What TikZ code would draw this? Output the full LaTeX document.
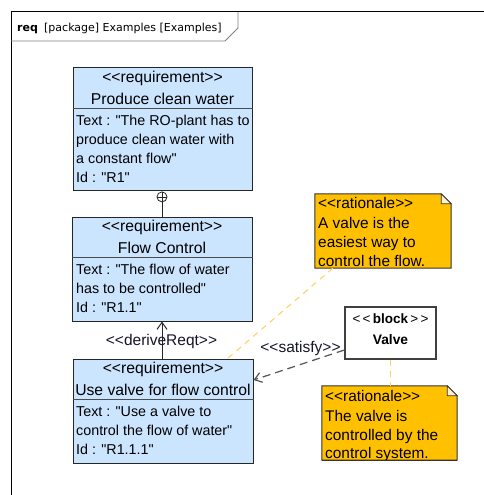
\documentclass[tikz,border=0pt]{standalone}
\usepackage{fontspec}
\setmainfont{Liberation Sans}[Ligatures=TeXOff]
\newfontfamily\titlefont{DejaVu Sans}
\usetikzlibrary{arrows.meta,calc}
\definecolor{reqblue}{HTML}{CCE5FF}
\definecolor{ratfill}{HTML}{FFC000}
\definecolor{ratfold}{HTML}{FFF0C8}
\definecolor{ratlink}{HTML}{FFCF5C}
\definecolor{tabgray}{HTML}{808080}
\definecolor{satgray}{HTML}{555555}
\definecolor{lbltext}{HTML}{15152A}
\begin{document}
\begin{tikzpicture}[x=1pt,y=-1pt,
  reqbox/.style={rectangle,draw=black!85,fill=reqblue,line width=1pt,inner sep=0},
  sepline/.style={draw=black!70,line width=1pt},
  hdr/.style={anchor=base,inner sep=0,font=\fontsize{15.7}{18}\selectfont},
  body/.style={anchor=base west,inner sep=0,font=\fontsize{14.3}{16}\selectfont},
  notetxt/.style={anchor=base west,inner sep=0,font=\fontsize{15.4}{18}\selectfont},
  lbl/.style={anchor=base,inner sep=0,text=lbltext,font=\fontsize{15.5}{18}\selectfont},
  hold/.style={rectangle,draw=none,inner sep=0},
  notebox/.style={draw=black!80,fill=ratfill,line width=1pt},
  notefold/.style={draw=black!80,fill=ratfold,line width=0.8pt},
  blockbox/.style={rectangle,draw=black!75,fill=white,line width=1.2pt,inner sep=0},
  anchorline/.style={draw=ratlink,line width=1pt,dash pattern=on 6pt off 5pt},
  openhead/.style={-{Straight Barb[length=7pt,width=10pt]}},
]
\useasboundingbox (0,0) rectangle (484,495);

% diagram frame with its name tab
\draw[line width=1pt] (11,497) -- (11,12) -- (486,12);
\draw[draw=tabgray,line width=0.8pt] (11,41) -- (225,41) -- (238,28) -- (238,12);
\node[anchor=base west,inner sep=0,font=\titlefont\bfseries\fontsize{11}{13}\selectfont] (ttlkind) at (17,32) {req};
\node[anchor=base west,inner sep=0,font=\titlefont\fontsize{11}{13}\selectfont] (ttlname) at (44,32) {[package] Examples [Examples]};

% requirement R1
\node[reqbox,minimum width=179pt,minimum height=122pt] (r1) at (162.5,129) {};
\draw[sepline] ($(r1.north west)+(0,41)$) -- ($(r1.north east)+(0,41)$);
\node[hdr] (r1s) at (162.5,82) {<<requirement>>};
\node[hdr] (r1n) at (162.5,104) {Produce clean water};
\node[body] (r1a) at (76,125) {Text : "The RO-plant has to};
\node[body] (r1b) at (76,144) {produce clean water with};
\node[body] (r1c) at (76,163) {a constant flow"};
\node[body] (r1d) at (76,182) {Id : "R1"};

% requirement R1.1
\node[reqbox,minimum width=180pt,minimum height=104pt] (r2) at (162,269) {};
\draw[sepline] ($(r2.north west)+(0,41)$) -- ($(r2.north east)+(0,41)$);
\node[hdr] (r2s) at (162,231) {<<requirement>>};
\node[hdr] (r2n) at (162,253) {Flow Control};
\node[body] (r2a) at (76,274) {Text : "The flow of water};
\node[body] (r2b) at (76,293) {has to be controlled"};
\node[body] (r2c) at (76,312) {Id : "R1.1"};

% requirement R1.1.1
\node[reqbox,minimum width=180pt,minimum height=104pt] (r3) at (163,411) {};
\draw[sepline] ($(r3.north west)+(0,41)$) -- ($(r3.north east)+(0,41)$);
\node[hdr] (r3s) at (163,373) {<<requirement>>};
\node[hdr] (r3n) at (163,395) {Use valve for flow control};
\node[body] (r3a) at (76,416) {Text : "Use a valve to};
\node[body] (r3b) at (76,435) {control the flow of water"};
\node[body] (r3c) at (76,454) {Id : "R1.1.1"};

% block Valve
\node[blockbox,minimum width=91pt,minimum height=52pt] (valve) at (390.5,333) {};
\node[anchor=base,inner sep=0,font=\fontsize{13.5}{16}\selectfont] (valvek) at (390.5,323) {<\,<\,\textbf{block}\,>\,>};
\node[anchor=base,inner sep=0,font=\bfseries\fontsize{13.8}{16}\selectfont] (valven) at (390.5,344) {Valve};

% rationale notes
\node[hold,minimum width=136pt,minimum height=74pt] (rat1) at (383,231) {};
\draw[notebox] (rat1.north west) -- ($(rat1.north east)+(-10,0)$) -- ($(rat1.north east)+(0,10)$) -- (rat1.south east) -- (rat1.south west) -- cycle;
\draw[notefold] ($(rat1.north east)+(-10,0)$) -- ($(rat1.north east)+(-10,10)$) -- ($(rat1.north east)+(0,10)$) -- cycle;
\begin{scope}
  \clip (rat1.north west) rectangle (rat1.south east);
  \node[notetxt] (rat1a) at (318,208) {<<rationale>>};
  \node[notetxt] (rat1b) at (318,228) {A valve is the};
  \node[notetxt] (rat1c) at (318,247) {easiest way to};
  \node[notetxt] (rat1d) at (318,266) {control the flow.};
\end{scope}

\node[hold,minimum width=135pt,minimum height=74pt] (rat2) at (389.5,423) {};
\draw[notebox] (rat2.north west) -- ($(rat2.north east)+(-10,0)$) -- ($(rat2.north east)+(0,10)$) -- (rat2.south east) -- (rat2.south west) -- cycle;
\draw[notefold] ($(rat2.north east)+(-10,0)$) -- ($(rat2.north east)+(-10,10)$) -- ($(rat2.north east)+(0,10)$) -- cycle;
\begin{scope}
  \clip (rat2.north west) rectangle ($(rat2.south east)+(0,-1)$);
  \node[notetxt] (rat2a) at (325,401) {<<rationale>>};
  \node[notetxt] (rat2b) at (325,421) {The valve is};
  \node[notetxt] (rat2c) at (325,440) {controlled by the};
  \node[notetxt] (rat2d) at (325,458.2) {control system.};
\end{scope}
\draw[draw=black!80,line width=1pt] (rat2.south west) -- (rat2.south east);

% containment R1 -> R1.1
\node[circle,draw=black!85,fill=white,line width=0.8pt,minimum size=10pt,inner sep=0,anchor=north] (cplus) at ($(r1.south)+(-0.5,1)$) {};
\draw[line width=0.8pt,black!85] (cplus.north) -- (cplus.south) (cplus.west) -- (cplus.east);
\draw[line width=1pt,black!85] (cplus.south |- r2.north) -- (cplus.south);

% deriveReqt R1.1.1 -> R1.1
\draw[openhead,line width=1pt,black!85] (cplus.south |- r3.north) -- (cplus.south |- r2.south);
\node[lbl] (derl) at (161.5,345) {<<deriveReqt>>};

% satisfy Valve -> R1.1.1
\draw[openhead,satgray,line width=1.2pt,dash pattern=on 8pt off 5pt] ($(valve.west)+(0,17)$) -- ($(r3.east)+(0,-31)$);
\node[lbl] (satl) at (300.5,352) {<<satisfy>>};

% note anchors
\draw[anchorline] ($(rat1.south west)+(18,0)$) -- ($(r3.north east)+(-26,0)$);
\draw[anchorline] (valve.south) -- (valve.south |- rat2.north);
\end{tikzpicture}
\end{document}
